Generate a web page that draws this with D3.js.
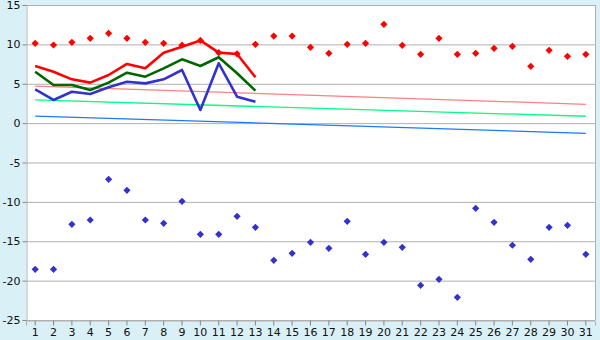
<!DOCTYPE html>
<html><head><meta charset="utf-8">
<script src="https://cdn.jsdelivr.net/npm/d3@7"></script>
<style>html,body{margin:0;padding:0;background:#daf0f7;}svg{display:block;}</style>
</head><body>
<script>
const days = d3.range(1, 32);
const yTicks = [-25, -20, -15, -10, -5, 0, 5, 10, 15];
const maxPoints = [10.13, 9.92, 10.26, 10.77, 11.4, 10.77, 10.26, 10.13, 9.9, 10.5, 8.95, 8.8, 10.0, 11.06, 11.06, 9.63, 8.86, 10.0, 10.13, 12.55, 9.88, 8.74, 10.77, 8.74, 8.86, 9.5, 9.75, 7.21, 9.24, 8.48, 8.74];
const minPoints = [-18.56, -18.56, -12.85, -12.3, -7.13, -8.53, -12.3, -12.72, -9.93, -14.12, -14.12, -11.83, -13.23, -17.42, -16.53, -15.13, -15.9, -12.47, -16.66, -15.13, -15.77, -20.6, -19.83, -22.12, -10.82, -12.6, -15.51, -17.29, -13.23, -12.98, -16.66];
const redLine = [7.25, 6.53, 5.56, 5.14, 6.11, 7.51, 6.96, 8.95, 9.71, 10.5, 8.95, 8.78, 5.82];
const greenLine = [6.53, 4.84, 4.84, 4.21, 5.14, 6.4, 5.9, 6.96, 8.1, 7.25, 8.36, 6.33, 4.12];
const blueLine = [4.29, 2.94, 3.99, 3.7, 4.55, 5.26, 5.05, 5.56, 6.75, 1.67, 7.6, 3.36, 2.72];
const trendPink = [4.71, 2.39];
const trendGreen = [2.94, 0.87];
const trendBlue = [0.9, -1.29];

const W = 600, H = 340;
const L = 26, R = 595, T = 5, B = 320;
const svg = d3.select("body").append("svg").attr("width", W).attr("height", H);
svg.append("rect").attr("width", W).attr("height", H).attr("fill", "#daf0f7");

const x = d3.scaleBand().domain(days).range([L, R]);
const cx = d => x(d) + x.bandwidth() / 2;
const y = d3.scaleLinear().domain([-25, 15]).range([B, T]);

svg.append("rect").attr("x", L).attr("y", T).attr("width", R - L).attr("height", B - T).attr("fill", "#fff");

// grid
svg.append("g").selectAll("line").data(yTicks).join("line")
  .attr("x1", L).attr("x2", R).attr("y1", d => y(d) + 0.5).attr("y2", d => y(d) + 0.5)
  .attr("stroke", "#b0b0b0").attr("stroke-width", 1);
svg.append("line").attr("x1", R + 0.5).attr("x2", R + 0.5).attr("y1", T).attr("y2", B)
  .attr("stroke", "#b0b0b0");

// axes
const yAxis = svg.append("g").attr("transform", `translate(${L + 0.5},0)`)
  .call(d3.axisLeft(y).tickValues(yTicks).tickSize(4).tickPadding(2).tickFormat(d => String(d)));
const xAxis = svg.append("g").attr("transform", `translate(0,${B + 0.5})`)
  .call(d3.axisBottom(x).tickSize(5).tickPadding(3));
[yAxis, xAxis].forEach(g => {
  g.select(".domain").attr("stroke", "#b0b0b0");
  g.selectAll(".tick line").attr("stroke", "#888");
  g.selectAll("text").attr("fill", "#111").style("font-family", "DejaVu Sans").style("font-size", "11px");
});

// trend lines
const trends = [[trendPink, "#ff8080"], [trendGreen, "#00ff80"], [trendBlue, "#1e78ff"]];
trends.forEach(([t, c]) => {
  svg.append("line").attr("x1", cx(1)).attr("x2", cx(31))
    .attr("y1", y(t[0])).attr("y2", y(t[1])).attr("stroke", c).attr("stroke-width", 1.3);
});

// lines
const line = d3.line().x((d, i) => cx(days[i])).y(d => y(d));
[[blueLine, "#3333cc"], [greenLine, "#006600"], [redLine, "#ff0000"]].forEach(([data, c]) => {
  svg.append("path").datum(data).attr("d", line).attr("fill", "none")
    .attr("stroke", c).attr("stroke-width", 2.6).attr("stroke-linejoin", "round");
});

// diamonds (rotated squares)
const sym = d3.symbol().type(d3.symbolSquare).size(26);
const drawMarks = (data, c) => svg.append("g").selectAll("path").data(data).join("path")
  .attr("d", sym).attr("transform", (d, i) => `translate(${cx(days[i])},${y(d)}) rotate(45)`).attr("fill", c);
drawMarks(maxPoints, "#ff0000");
drawMarks(minPoints, "#3333cc");
</script>
</body></html>
